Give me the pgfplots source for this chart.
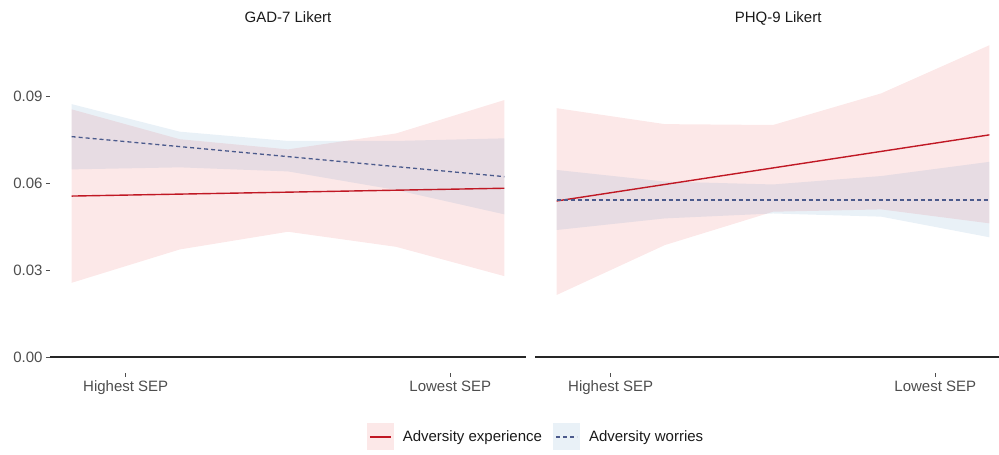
\documentclass[border=0pt]{standalone}
\usepackage{pgfplots}
\pgfplotsset{compat=1.18}
\usepackage{fontspec}
\setmainfont{Liberation Sans}
\definecolor{redline}{RGB}{192,24,36}
\definecolor{blueline}{RGB}{75,90,140}
\definecolor{redfill}{RGB}{228,26,28}
\definecolor{bluefill}{RGB}{55,126,184}
\definecolor{ticklab}{RGB}{77,77,77}
\definecolor{txt}{RGB}{26,26,26}
\pgfplotsset{
  panel/.style={
    anchor=south west, scale only axis, height=344pt,
    xmin=0.8, ymin=-0.0055, ymax=0.1131,
    axis lines*=left, axis line style={draw=none},
    xtick={1.5,4.5}, xticklabels={Highest SEP, Lowest SEP},
    tick align=outside, major tick length=4pt,
    tick style={ticklab, line width=0.8pt},
    ticklabel style={font=\fontsize{15}{18}\selectfont, text=ticklab},
    /pgf/number format/assume math mode=true,
    title style={font=\fontsize{15}{18}\selectfont, text=txt, anchor=base, yshift=0.8pt},
  },
  redrib/.style={fill=redfill, fill opacity=0.1, draw=none, forget plot},
  bluerib/.style={fill=bluefill, fill opacity=0.11, draw=none, forget plot},
  zeroline/.style={color=black!85, line width=1.3pt, forget plot},
  redl/.style={color=redline, line width=1.4pt},
  bluel/.style={color=blueline, line width=1.3pt, dash pattern=on 4pt off 3pt},
  redleg/.style={legend image code/.code={
    \path[fill=redfill, fill opacity=0.1, draw=none] (0pt,-13.5pt) rectangle (27pt,13.5pt);
    \draw[##1] (3pt,0pt) -- (24pt,0pt);}},
  blueleg/.style={legend image code/.code={
    \path[fill=bluefill, fill opacity=0.11, draw=none] (0pt,-13.5pt) rectangle (27pt,13.5pt);
    \draw[##1] (3pt,0pt) -- (24pt,0pt);}},
}
\begin{document}
\begin{tikzpicture}[x=1pt,y=1pt]
\useasboundingbox (0,0) rectangle (999,455);
% ---------------- left panel ----------------
\begin{axis}[panel, at={(50pt,82pt)}, width=476pt, xmax=5.2,
  title={GAD-7 Likert}, title style={at={(0.5,1)}},
  ytick={0,0.03,0.06,0.09}, yticklabels={0.00,0.03,0.06,0.09},
  legend style={at={(1.021,-0.186)}, anchor=center, draw=none, fill=none,
    legend columns=2, font=\fontsize{15}{18}\selectfont, text=txt,
    /tikz/every odd column/.append style={column sep=7pt},
    /tikz/every even column/.append style={column sep=9pt}},
  legend cell align=left]
\addplot[redrib] coordinates {(1,0.0854)(2,0.0751)(3,0.0716)(4,0.0771)(5,0.0886)
  (5,0.0279)(4,0.0380)(3,0.0432)(2,0.0371)(1,0.0256)} -- cycle;
\addplot[bluerib] coordinates {(1,0.0872)(2,0.0777)(3,0.0745)(4,0.0745)(5,0.0754)
  (5,0.0492)(4,0.0576)(3,0.0640)(2,0.0654)(1,0.0647)} -- cycle;
\addplot[zeroline] coordinates {(0.8,0)(5.2,0)};
\addplot[redl, redleg] coordinates {(1,0.0555)(5,0.0582)};
\addlegendentry{Adversity experience}
\addplot[bluel, blueleg] coordinates {(1,0.0760)(5,0.0622)};
\addlegendentry{Adversity worries}
\end{axis}
% ---------------- right panel ----------------
\begin{axis}[panel, at={(535pt,82pt)}, width=464pt, xmax=5.089,
  title={PHQ-9 Likert}, title style={at={(0.524,1)}},
  ytick=\empty]
\addplot[redrib] coordinates {(1,0.0858)(2,0.0803)(3,0.0800)(4,0.0909)(5,0.1075)
  (5,0.0461)(4,0.0509)(3,0.0501)(2,0.0386)(1,0.0214)} -- cycle;
\addplot[bluerib] coordinates {(1,0.0645)(2,0.0605)(3,0.0595)(4,0.0624)(5,0.0673)
  (5,0.0413)(4,0.0484)(3,0.0495)(2,0.0478)(1,0.0438)} -- cycle;
\addplot[zeroline] coordinates {(0.8,0)(5.2,0)};
\addplot[redl] coordinates {(1,0.0538)(5,0.0766)};
\addplot[bluel] coordinates {(1,0.0541)(5,0.0541)};
\end{axis}
\end{tikzpicture}
\end{document}
